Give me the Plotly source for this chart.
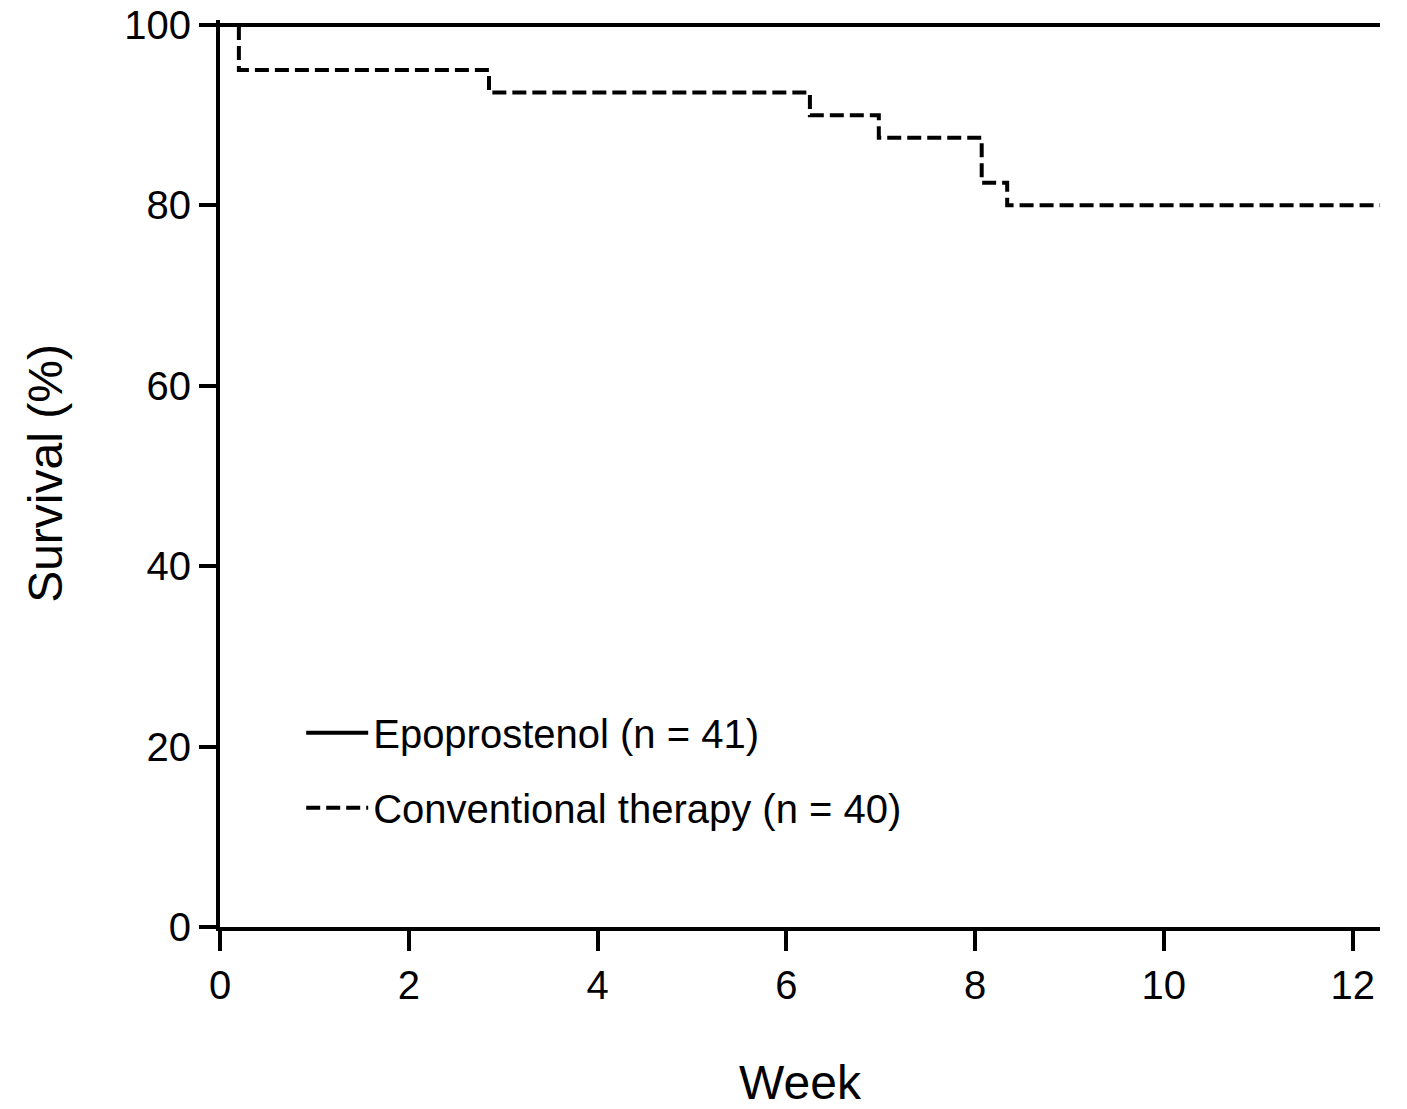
"""Kaplan-Meier style survival curves: epoprostenol vs conventional therapy."""

import plotly.graph_objects as go

# survival data (weeks, percent)
epo_weeks = [0, 12.29]
epo_survival = [100, 100]

conv_weeks = [0, 0.20, 2.85, 6.25, 6.98, 8.07, 8.34, 12.29]
conv_survival = [100, 95, 92.5, 90, 87.5, 82.5, 80, 80]

x_ticks = [0, 2, 4, 6, 8, 10, 12]
y_ticks = [0, 20, 40, 60, 80, 100]

FONT = "Liberation Sans, Arial, sans-serif"

fig = go.Figure()
fig.add_trace(
    go.Scatter(
        x=epo_weeks,
        y=epo_survival,
        mode="lines",
        line=dict(color="black", width=4, shape="hv"),
        name="Epoprostenol (n = 41)",
        legendgroup="epo",
    )
)
fig.add_trace(
    go.Scatter(
        x=conv_weeks,
        y=conv_survival,
        mode="lines",
        line=dict(color="black", width=4, shape="hv", dash="14px,6px"),
        name="Conventional therapy (n = 40)",
        legendgroup="conv",
    )
)

axis_common = dict(
    showline=True,
    linecolor="black",
    linewidth=4,
    ticks="outside",
    tickcolor="black",
    tickwidth=4,
    showgrid=False,
    zeroline=False,
    automargin=True,  # needed for title standoff; margins stay fixed (autoexpand off)
    ticklabeloverflow="allow",
    tickfont=dict(family=FONT, size=40, color="black"),
)

fig.update_xaxes(
    range=[0, 12.29],
    tickvals=x_ticks,
    ticklen=20,
    title=dict(text="Week", font=dict(family=FONT, size=48, color="black"), standoff=60),
    **axis_common,
)
fig.update_yaxes(
    range=[0, 100.55],
    tickvals=y_ticks,
    ticklen=17,
    title=dict(text="Survival (%)", font=dict(family=FONT, size=48, color="black"), standoff=47),
    **axis_common,
)

fig.update_layout(
    width=1407,
    height=1109,
    margin=dict(l=220, r=27, t=20, b=182, autoexpand=False),
    plot_bgcolor="white",
    paper_bgcolor="white",
    showlegend=True,
    legend=dict(
        x=0.07,
        y=0.25,
        xanchor="left",
        yanchor="top",
        bgcolor="rgba(0,0,0,0)",
        font=dict(family=FONT, size=40, color="black"),
        itemwidth=62,
        tracegroupgap=20,
    ),
)

# drop the browser's default body margin so the figure sits at the page corner
fig.write_html(
    "out.html",
    config={"displayModeBar": False},
    post_script="document.body.style.margin = '0';",
)
